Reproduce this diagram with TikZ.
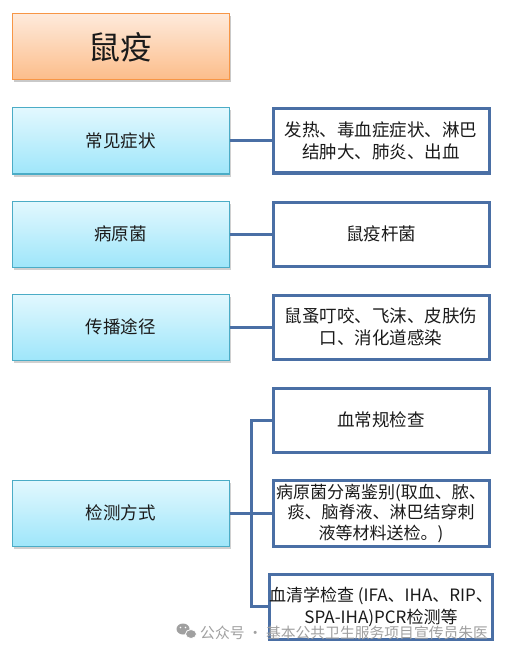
\documentclass[tikz,border=0pt]{standalone}
\usepackage{fontspec}
\setmainfont{Noto Sans CJK SC}
\usetikzlibrary{shadows}
\definecolor{orborder}{HTML}{F79646}
\definecolor{ortop}{HTML}{FEEADB}
\definecolor{orbot}{HTML}{FCBD8A}
\definecolor{cyborder}{HTML}{4BACC6}
\definecolor{cytop}{HTML}{E2F8FE}
\definecolor{cybot}{HTML}{9FE6FA}
\definecolor{blueline}{HTML}{4A6FA5}
\definecolor{txt}{HTML}{1A1A1A}
\definecolor{wm}{HTML}{A0A0A0}
\tikzset{
  titlebox/.style={draw=orborder, line width=1pt, top color=ortop, bottom color=orbot,
    minimum width=217pt, minimum height=66pt, inner sep=0pt,
    drop shadow={shadow xshift=1.5pt, shadow yshift=-2.5pt, opacity=0.35, fill=black!60},
    font=\fontsize{32}{36}\selectfont, text=txt},
  leftbox/.style={draw=cyborder, line width=1pt, top color=cytop, bottom color=cybot,
    minimum width=217pt, minimum height=66pt, inner sep=0pt,
    drop shadow={shadow xshift=1.5pt, shadow yshift=-2.5pt, opacity=0.3, fill=black!60},
    font=\fontsize{17.5}{21}\selectfont, text=txt},
  rightbox/.style={draw=blueline, line width=3pt, fill=white,
    minimum width=216pt, minimum height=64pt, inner sep=0pt, align=center,
    font=\fontsize{17.5}{21.5}\selectfont, text=txt},
  conn/.style={draw=blueline, line width=3pt},
  watermark/.style={text=wm, font=\fontsize{14.8}{17}\selectfont, inner sep=0pt, anchor=west}
}
\begin{document}
\begin{tikzpicture}[x=1pt,y=-1pt]
\useasboundingbox[fill=white] (0,0) rectangle (504,655);
% title
\node[titlebox] (title) at (120.5,47) {鼠疫};
% left boxes
\node[leftbox] (l1) at (120.5,141) {常见症状};
\node[leftbox] (l2) at (120.5,234) {病原菌};
\node[leftbox] (l3) at (120.5,327) {传播途径};
\node[leftbox] (l4) at (120.5,513) {检测方式};
% right boxes
\node[rightbox] (r1) at (381,141) {发热、毒血症症状、淋巴\\结肿大、肺炎、出血};
\node[rightbox] (r2) at (381,234) {鼠疫杆菌};
\node[rightbox] (r3) at (381,327) {鼠蚤叮咬、飞沫、皮肤伤\\口、消化道感染};
\node[rightbox] (r4) at (381,420) {血常规检查};
\node[rightbox, minimum height=66pt, font=\fontsize{17}{20.5}\selectfont] (r5) at (381,513) {病原菌分离鉴别(取血、脓、\\痰、脑脊液、淋巴结穿刺\\液等材料送检。)};
\node[rightbox, minimum height=65pt, font=\fontsize{17}{22}\selectfont] (r6) at (381,606.5) {血清学检查 (IFA、IHA、RIP、\\SPA-IHA)PCR检测等};
% connectors
\draw[conn] (l1.east) -- (r1.west);
\draw[conn] (l2.east) -- (r2.west);
\draw[conn] (l3.east) -- (r3.west);
\coordinate (bt) at ([xshift=-20pt]r4.west);
\draw[conn] (r4.west) -- (bt) |- (r6.west);
\draw[conn] (l4.east) -- (r5.west);
% watermark
\fill[wm] (183,629) ellipse (6.5pt and 5.5pt);
\fill[wm] (191,634) ellipse (5.5pt and 4.5pt);
\draw[white, line width=0.8pt] (191,634) ellipse (5.5pt and 4.5pt);
\fill[white] (180.5,627.5) circle (0.9pt) (185.5,627.5) circle (0.9pt);
\node[watermark] (wmtext) at (200,633) {公众号 · 基本公共卫生服务项目宣传员朱医};
\end{tikzpicture}
\end{document}
